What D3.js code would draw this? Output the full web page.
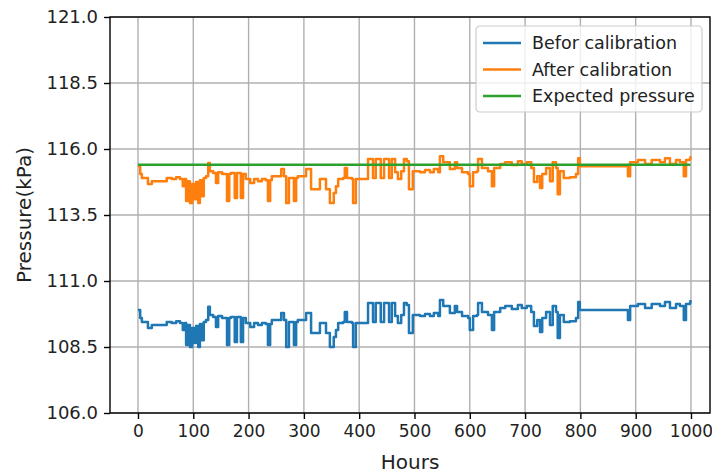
<!DOCTYPE html>
<html>
<head>
<meta charset="utf-8" />
<title>Pressure calibration</title>
<script src="https://d3js.org/d3.v7.min.js"></script>
<style>
    body { margin: 0; background: #fff; }
    svg { display: block; font-family: "DejaVu Sans", sans-serif; }
</style>
</head>
<body>
<svg id="chart"></svg>
<script>

// hours at which the readings change (step data)
var hours = [0, 4, 7, 18, 25, 52, 61, 69, 76, 81, 85, 87, 90, 94, 98, 101, 105, 109, 112, 116,
    119, 123, 127, 130, 136, 141, 145, 152, 157, 161, 165, 168, 175, 179, 186, 190, 195, 203, 210, 217,
    224, 231, 235, 239, 242, 253, 259, 264, 268, 273, 280, 282, 286, 289, 304, 313, 322, 329, 333, 340,
    347, 354, 358, 362, 371, 374, 378, 387, 389, 394, 405, 416, 425, 430, 439, 445, 454, 459, 465, 470,
    476, 481, 486, 490, 497, 510, 519, 528, 535, 543, 546, 552, 559, 564, 573, 577, 586, 597, 600, 606,
    613, 615, 622, 633, 640, 644, 655, 664, 676, 687, 694, 703, 711, 716, 722, 727, 731, 738, 745, 750,
    756, 759, 763, 770, 781, 792, 796, 799, 884, 886, 890, 904, 917, 929, 944, 953, 962, 973, 980, 987,
    991, 998, 999]

var before = [109.90, 109.60, 109.45, 109.22, 109.33, 109.45, 109.41, 109.48, 109.41, 109.14, 109.41, 108.58, 109.33, 108.50, 109.22, 108.65, 109.30, 108.50, 109.37, 108.76,
    109.45, 109.52, 110.02, 109.71, 109.64, 109.26, 109.67, 109.60, 109.60, 108.58, 109.60, 109.64, 108.69, 109.64, 108.69, 109.60, 109.41, 109.26, 109.41, 109.33,
    109.41, 109.37, 108.58, 109.37, 109.52, 109.52, 109.79, 109.52, 108.50, 109.45, 109.45, 108.58, 109.45, 109.52, 109.79, 109.03, 109.03, 109.41, 109.41, 109.03,
    108.50, 108.88, 109.14, 109.41, 109.45, 109.83, 109.45, 109.41, 108.50, 109.41, 109.41, 110.17, 109.45, 110.17, 109.45, 110.17, 109.45, 110.17, 109.67, 109.41,
    109.71, 110.17, 110.09, 109.03, 109.71, 109.67, 109.75, 109.67, 109.79, 109.67, 110.28, 110.05, 110.05, 109.79, 110.05, 109.83, 109.67, 109.60, 109.14, 109.67,
    109.71, 110.17, 109.83, 109.71, 109.14, 109.83, 109.98, 110.05, 109.94, 110.09, 109.98, 110.05, 109.83, 109.30, 109.52, 109.07, 109.60, 109.83, 109.33, 110.05,
    109.83, 108.84, 109.71, 109.45, 109.48, 109.60, 110.20, 109.90, 109.90, 109.52, 110.05, 110.13, 109.98, 110.13, 110.05, 110.20, 109.98, 110.13, 110.05, 109.52,
    110.13, 110.17, 110.28]

var after = [115.35, 115.05, 114.90, 114.67, 114.78, 114.90, 114.86, 114.93, 114.86, 114.59, 114.86, 114.03, 114.78, 113.95, 114.67, 114.10, 114.75, 113.95, 114.82, 114.21,
    114.90, 114.97, 115.47, 115.16, 115.09, 114.71, 115.12, 115.05, 115.05, 114.03, 115.05, 115.09, 114.14, 115.09, 114.14, 115.05, 114.86, 114.71, 114.86, 114.78,
    114.86, 114.82, 114.03, 114.82, 114.97, 114.97, 115.24, 114.97, 113.95, 114.90, 114.90, 114.03, 114.90, 114.97, 115.24, 114.48, 114.48, 114.86, 114.86, 114.48,
    113.95, 114.33, 114.59, 114.86, 114.90, 115.28, 114.90, 114.86, 113.95, 114.86, 114.86, 115.62, 114.90, 115.62, 114.90, 115.62, 114.90, 115.62, 115.12, 114.86,
    115.16, 115.62, 115.54, 114.48, 115.16, 115.12, 115.20, 115.12, 115.24, 115.12, 115.73, 115.50, 115.50, 115.24, 115.50, 115.28, 115.12, 115.05, 114.59, 115.12,
    115.16, 115.62, 115.28, 115.16, 114.59, 115.28, 115.43, 115.50, 115.39, 115.54, 115.43, 115.50, 115.28, 114.75, 114.97, 114.52, 115.05, 115.28, 114.78, 115.50,
    115.28, 114.29, 115.16, 114.90, 114.93, 115.05, 115.65, 115.35, 115.35, 114.97, 115.50, 115.58, 115.43, 115.58, 115.50, 115.65, 115.43, 115.58, 115.50, 114.97,
    115.58, 115.62, 115.73]

var expectedHours = [0, 999]
var expected = [115.4, 115.4]

var xTicks = [0, 100, 200, 300, 400, 500, 600, 700, 800, 900, 1000]
var yTicks = [106.0, 108.5, 111.0, 113.5, 116.0, 118.5, 121.0]

var seriesNames = ['Befor calibration', 'After calibration', 'Expected pressure']
var colors = ['#1f77b4', '#ff7f0e', '#2ca02c']

var W = 712, H = 476
var pL = 110, pR = 710, pT = 17, pB = 413

var svg = d3.select('#chart').attr('width', W).attr('height', H)

var x = d3.scaleLinear().domain([-50.6, 1034.4]).range([pL, pR])
var y = d3.scaleLinear().domain([106, 121]).range([pB, pT])

// grid
svg.append('g').selectAll('line').data(xTicks).join('line')
    .attr('x1', d => x(d)).attr('x2', d => x(d))
    .attr('y1', pT).attr('y2', pB)
    .attr('stroke', '#b0b0b0').attr('stroke-width', 1.4)
svg.append('g').selectAll('line').data(yTicks).join('line')
    .attr('x1', pL).attr('x2', pR)
    .attr('y1', d => y(d)).attr('y2', d => y(d))
    .attr('stroke', '#b0b0b0').attr('stroke-width', 1.4)

// series
function pts(hs, vs) { return hs.map((h, i) => [h, vs[i]]) }
var line = d3.line().x(d => x(d[0])).y(d => y(d[1])).curve(d3.curveStepAfter)
var data = [pts(hours, before), pts(hours, after), pts(expectedHours, expected)]

var plot = svg.append('g')
data.forEach(function (d, i) {
    plot.append('path')
        .datum(d)
        .attr('d', line)
        .attr('fill', 'none')
        .attr('stroke', colors[i])
        .attr('stroke-width', 2.5)
        .attr('stroke-linejoin', 'round')
})

// axes
var xAxis = svg.append('g')
    .attr('transform', `translate(0,${pB})`)
    .call(d3.axisBottom(x).tickValues(xTicks).tickSize(6).tickPadding(6).tickFormat(d3.format('d')))
var yAxis = svg.append('g')
    .attr('transform', `translate(${pL},0)`)
    .call(d3.axisLeft(y).tickValues(yTicks).tickSize(6).tickPadding(6).tickFormat(d3.format('.1f')))

;[xAxis, yAxis].forEach(function (g, k) {
    g.select('.domain').remove()
    g.selectAll('.tick line').attr('stroke', '#000').attr('stroke-width', 1.4)
    g.selectAll('.tick text').attr('fill', '#222')
        .style('font-size', k == 0 ? '17px' : '18px')
        .style('font-family', '"DejaVu Sans", sans-serif')
})

// frame
svg.append('rect')
    .attr('x', pL).attr('y', pT)
    .attr('width', pR - pL).attr('height', pB - pT)
    .attr('fill', 'none').attr('stroke', '#000').attr('stroke-width', 1.4)

// axis labels
svg.append('text')
    .attr('x', (pL + pR) / 2).attr('y', 469)
    .attr('text-anchor', 'middle')
    .style('font-size', '20px').attr('fill', '#222')
    .text('Hours')
svg.append('text')
    .attr('transform', `translate(31,${(pT + pB) / 2}) rotate(-90)`)
    .attr('text-anchor', 'middle')
    .style('font-size', '20px').attr('fill', '#222')
    .text('Pressure(kPa)')

// legend
var lg = svg.append('g').attr('transform', 'translate(476,26)')
lg.append('rect')
    .attr('width', 226).attr('height', 86)
    .attr('rx', 4).attr('ry', 4)
    .attr('fill', 'rgba(255,255,255,0.8)').attr('stroke', '#cccccc').attr('stroke-width', 1.2)
seriesNames.forEach(function (name, i) {
    var cy = 17 + i * 26.5
    lg.append('line')
        .attr('x1', 7).attr('x2', 45)
        .attr('y1', cy).attr('y2', cy)
        .attr('stroke', colors[i]).attr('stroke-width', 2.5)
    lg.append('text')
        .attr('x', 56).attr('y', cy)
        .attr('dy', '0.35em')
        .style('font-size', '17.5px').attr('fill', '#222')
        .text(name)
})

</script>
</body>
</html>
